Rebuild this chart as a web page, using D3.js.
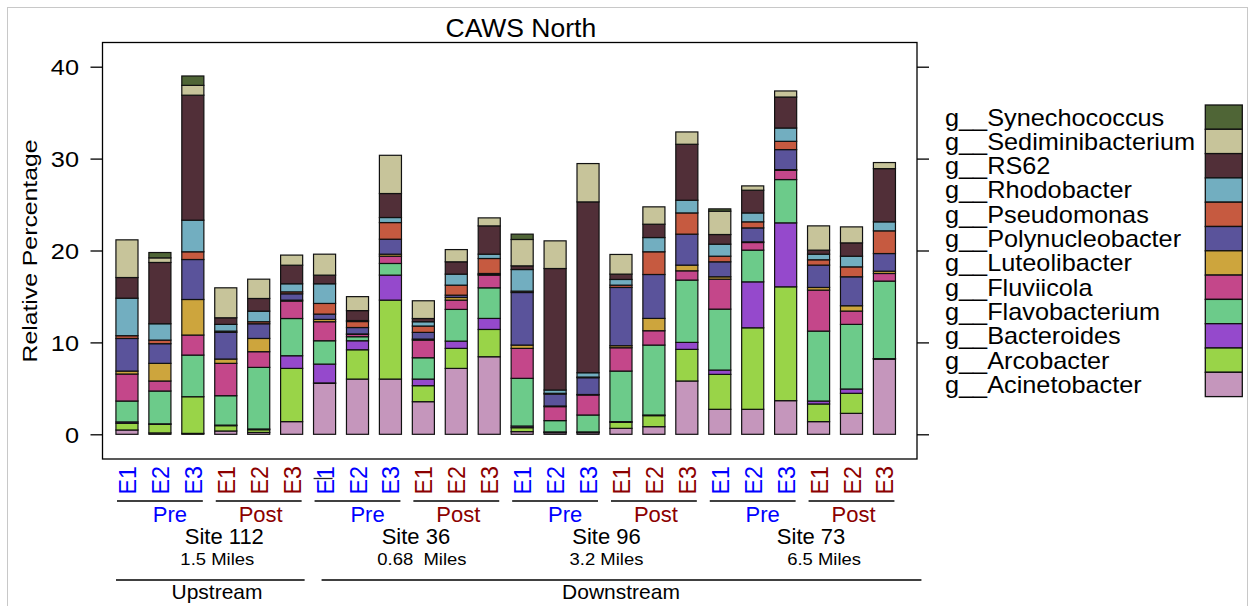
<!DOCTYPE html>
<html>
<head>
<meta charset="utf-8">
<script src="https://cdn.jsdelivr.net/npm/d3@7"></script>
<style>
  body { margin: 0; background: #fff; }
  svg { display: block; font-family: "Liberation Sans", Arial, sans-serif; }
  text { white-space: pre; }
</style>
</head>
<body>
<div id="chart"></div>
<script>
// samples (bars), left to right
var samples = ["E1","E2","E3","E1","E2","E3","E1","E2","E3","E1","E2","E3",
               "E1","E2","E3","E1","E2","E3","E1","E2","E3","E1","E2","E3"];
var phases = ["Pre","Post","Pre","Post","Pre","Post","Pre","Post"];
var sites = ["Site 112","Site 36","Site 96","Site 73"];
var miles = ["1.5 Miles","0.68  Miles","3.2 Miles","6.5 Miles"];
var reaches = ["Upstream","Downstream"];
var yTicks = [0, 10, 20, 30, 40];

// genera, bottom of stack first
var genera = ["g__Acinetobacter","g__Arcobacter","g__Bacteroides","g__Flavobacterium",
              "g__Fluviicola","g__Luteolibacter","g__Polynucleobacter","g__Pseudomonas",
              "g__Rhodobacter","g__RS62","g__Sediminibacterium","g__Synechococcus"];
var generaColors = ["#c596bc","#99d448","#9549cc","#6ccb8a","#c4478a","#cda53d",
                    "#5a539b","#c65a40","#72aec0","#512f38","#c7c49a","#4f6536"];

// relative percentage per sample
var acinetobacter = [0.47,0.15,0.1,0.36,0.2,1.38, 5.54,6.01,6.01,3.55,7.17,8.44, 0.29,0.18,0.18,0.65,0.83,5.8, 2.72,2.72,3.66,1.38,2.28,8.19];
var arcobacter    = [0.73,0.94,3.99,0.58,0.3,5.79, 0.05,3.19,8.59,1.74,2.18,2.97, 0.43,0.05,0.05,0.65,1.2,3.44, 3.8,8.87,12.39,1.92,2.18,0.02];
var bacteroides   = [0.15,0.05,0,0.06,0.08,1.38, 2.05,0.98,2.72,0.72,0.79,1.2, 0.18,0.03,0.03,0.08,0.07,0.76, 0.47,5.0,6.96,0.32,0.47,0.02];
var flavobacterium= [2.27,3.57,4.53,3.2,6.7,4.05, 2.54,0.44,1.27,2.32,3.45,3.33, 5.19,1.23,1.84,5.5,7.61,6.78, 6.63,3.45,4.71,7.61,7.03,8.44];
var fluviicola    = [2.94,1.09,2.18,3.52,1.71,1.9, 2.07,0.25,0.79,1.92,1.01,1.38, 3.26,1.52,2.18,2.54,1.56,1.01, 3.26,0.83,1.01,4.46,1.45,0.83];
var luteolibacter = [0.32,1.92,3.87,0.47,1.44,0.1, 0.25,0.05,0.22,0.11,0.29,0.07, 0.36,0.07,0.05,0.22,1.34,0.62, 0.26,0.07,0.07,0.29,0.58,0.25];
var polynucleobacter = [3.55,2.14,4.35,2.9,1.6,0.69, 0.58,0.7,1.63,0.73,0.25,0.11, 5.72,1.3,1.83,6.34,4.78,3.37, 1.63,1.52,2.18,2.43,3.15,1.92];
var pseudomonas   = [0.3,0.39,0.84,0.14,0.22,0.21, 1.16,0.65,1.81,0.69,1.09,1.63, 0.15,0.08,0.07,0.25,2.47,2.31, 0.61,0.66,0.9,0.58,1.08,2.47];
var rhodobacter   = [4.08,1.78,3.44,0.73,1.15,0.88, 2.14,0.11,0.55,0.47,1.2,0.47, 2.35,0.36,0.47,0.62,1.55,1.38, 1.31,0.97,1.45,0.61,1.16,0.98];
var rs62          = [2.25,6.67,13.6,0.72,1.38,2.02, 0.94,1.08,2.61,0.35,1.34,3.08, 0.4,13.22,18.59,0.58,1.45,6.09, 1.05,2.47,3.37,0.44,1.45,5.79];
var sediminibacterium = [4.1,0.5,1.07,3.26,2.1,1.1, 2.28,1.52,4.16,1.93,1.33,0.87, 2.87,3.01,4.17,2.14,1.89,1.34, 2.54,0.47,0.66,2.64,1.74,0.66];
var synechococcus = [0,0.58,1.02,0,0,0, 0,0,0,0,0,0, 0.58,0,0,0,0,0, 0.25,0,0,0,0,0];

var series = [acinetobacter, arcobacter, bacteroides, flavobacterium, fluviicola, luteolibacter,
              polynucleobacter, pseudomonas, rhodobacter, rs62, sediminibacterium, synechococcus];

// table for d3.stack: one row per sample
var rows = samples.map(function(s, i) {
  var r = {idx: i};
  genera.forEach(function(g, k) { r[g] = series[k][i]; });
  return r;
});

var W = 1253, H = 606;
var box = {left: 102.5, right: 917, top: 42.5, bottom: 459};

var svg = d3.select("#chart").append("svg")
    .attr("width", W).attr("height", H);

// screenshot frame
svg.append("rect")
    .attr("x", 7.5).attr("y", 7.5).attr("width", 1240).attr("height", 620)
    .attr("fill", "none").attr("stroke", "#c8c8c8").attr("stroke-width", 1);

var x = d3.scaleBand()
    .domain(d3.range(samples.length))
    .range([110.5, 900.9])
    .paddingInner(0.33)
    .paddingOuter(0.165);

var y = d3.scaleLinear().domain([0, 40]).range([434.3, 66.7]);

var color = d3.scaleOrdinal().domain(genera).range(generaColors);

// text with a slight horizontal stretch, like the original device font
function label(sel, px, py, str, opt) {
  opt = opt || {};
  var t = "translate(" + px + "," + py + ")";
  if (opt.rotate) t += " rotate(" + opt.rotate + ")";
  t += " scale(" + (opt.sx || 1) + ",1)";
  return sel.append("text")
      .attr("transform", t)
      .attr("text-anchor", opt.anchor || "middle")
      .attr("font-size", opt.size || 22)
      .attr("fill", opt.fill || "#000")
      .text(str);
}

// stacked bars
var stack = d3.stack().keys(genera);
var layers = stack(rows);

svg.append("g").selectAll("g")
  .data(layers)
  .join("g")
    .attr("fill", function(d) { return color(d.key); })
  .selectAll("rect")
  .data(function(d) { return d; })
  .join("rect")
    .attr("x", function(d) { return x(d.data.idx); })
    .attr("width", x.bandwidth())
    .attr("y", function(d) { return y(d[1]); })
    .attr("height", function(d) { return y(d[0]) - y(d[1]); })
    .attr("stroke", "#111")
    .attr("stroke-width", 1.2);

// plot frame
svg.append("rect")
    .attr("x", box.left).attr("y", box.top)
    .attr("width", box.right - box.left).attr("height", box.bottom - box.top)
    .attr("fill", "none").attr("stroke", "#000").attr("stroke-width", 1.3);

// left and right axes (ticks only, frame is the axis line)
var leftAxis = d3.axisLeft(y).tickValues(yTicks).tickSize(12).tickFormat("");
var rightAxis = d3.axisRight(y).tickValues(yTicks).tickSize(12).tickFormat("");
svg.append("g").attr("transform", "translate(" + box.left + ",0)").call(leftAxis)
  .call(function(g) { g.select(".domain").remove(); g.selectAll("line").attr("stroke-width", 1.3); });
svg.append("g").attr("transform", "translate(" + box.right + ",0)").call(rightAxis)
  .call(function(g) { g.select(".domain").remove(); g.selectAll("line").attr("stroke-width", 1.3); });

yTicks.forEach(function(v) {
  label(svg, 79, y(v) + 8.5, String(v), {anchor: "end", size: 22, sx: 1.15});
});

label(svg, 36.7, 251, "Relative Percentage", {rotate: -90, size: 21, sx: 1.18});
label(svg, 520.8, 37.3, "CAWS North", {size: 25, sx: 1.06});

// legend
var legY0 = 105, legH = 24.3;
var legendOrder = genera.slice().reverse();
legendOrder.forEach(function(g, i) {
  svg.append("rect")
      .attr("x", 1205.3).attr("y", legY0 + i * legH)
      .attr("width", 37).attr("height", legH)
      .attr("fill", color(g)).attr("stroke", "#111").attr("stroke-width", 1.3);
  label(svg, 945, legY0 + i * legH + legH / 2 + 8.4, g, {anchor: "start", size: 23, sx: 1.1});
});

// sample labels under each bar
var phaseColor = {Pre: "#0000ff", Post: "#8b0000"};
samples.forEach(function(s, i) {
  var ph = phases[Math.floor(i / 3)];
  label(svg, x(i) + x.bandwidth() / 2 + 9, 466, s,
        {rotate: -90, anchor: "end", size: 24, sx: 0.97, fill: phaseColor[ph]});
});

function center(i) { return x(i) + x.bandwidth() / 2; }

// stray tick drawn over the first Site 36 label in the original
svg.append("line")
    .attr("x1", center(6) - 11).attr("x2", center(6) + 8)
    .attr("y1", 478.5).attr("y2", 478.5)
    .attr("stroke", "#222").attr("stroke-width", 1.3);

// Pre / Post groups
phases.forEach(function(p, j) {
  var a = center(j * 3), b = center(j * 3 + 2);
  svg.append("line")
      .attr("x1", a - 10).attr("x2", b + 10)
      .attr("y1", 501).attr("y2", 501)
      .attr("stroke", "#000").attr("stroke-width", 1.3);
  var off = p === "Pre" ? 10 : 2;
  label(svg, (a + b) / 2 + off, 522.3, p, {size: 22, fill: phaseColor[p]});
});

// sites and distances
var siteOffset = [15, 9, 2, 9];
var milesOffset = [8, 15, 2, 22];
sites.forEach(function(s, j) {
  var c = (center(j * 6) + center(j * 6 + 5)) / 2;
  label(svg, c + siteOffset[j], 544, s, {size: 22});
  label(svg, c + milesOffset[j], 565, miles[j], {size: 16.5, sx: 1.12});
});

// upstream / downstream
var reachSpan = [[0, 5], [6, 23]];
var reachEnds = [[-11, 13], [-3, 37]];
reaches.forEach(function(r, j) {
  var a = center(reachSpan[j][0]) + reachEnds[j][0];
  var b = center(reachSpan[j][1]) + reachEnds[j][1];
  svg.append("line")
      .attr("x1", a).attr("x2", b).attr("y1", 580).attr("y2", 580)
      .attr("stroke", "#000").attr("stroke-width", 1.3);
  label(svg, j === 0 ? 217 : 621, 599.3, r, {size: 20, sx: 1.05});
});
</script>
</body>
</html>
